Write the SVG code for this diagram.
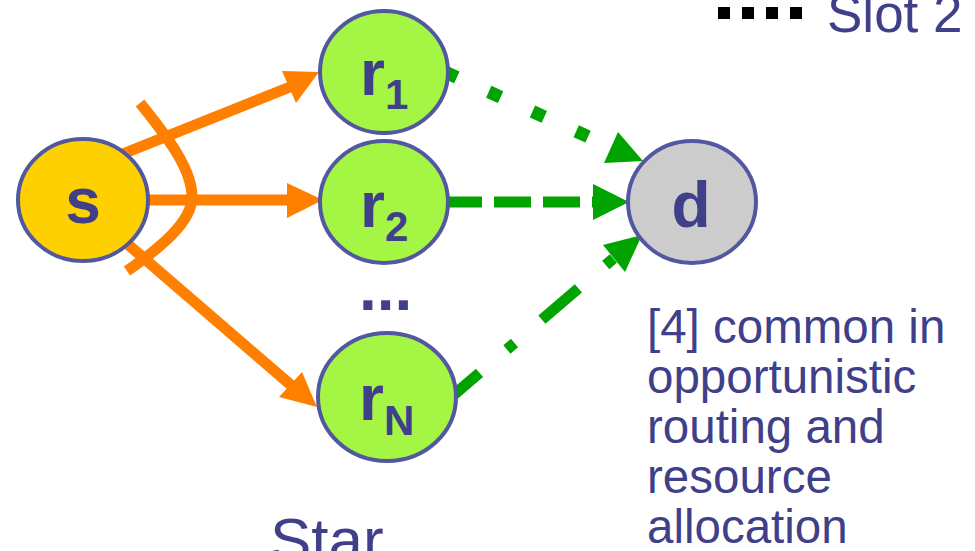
<svg xmlns="http://www.w3.org/2000/svg" width="975" height="551" viewBox="0 0 975 551">
<style>
.node{stroke:#5258A0;stroke-width:4}
.lbl{font-family:"Liberation Sans",Arial,sans-serif;font-weight:bold;fill:#40408A;font-size:64px}
.sub{font-size:42px}
.txt{font-family:"Liberation Sans",Arial,sans-serif;fill:#40408A}
.or{stroke:#FF7F00;stroke-width:11;fill:none}
.orh{fill:#FF7F00}
.gr{stroke:#00A300;fill:none}
.grh{fill:#00A300}
</style>
<rect width="975" height="551" fill="#FFFFFF"/>
<g id="connectors">
  <path class="or" d="M140,103 C170,140 192,170 192,197 C192,222 160,248 127,271"/>
  <line class="or" x1="110" y1="159" x2="290" y2="87"/>
  <polygon class="orh" points="282,71 296,103 319,72"/>
  <line class="or" x1="140" y1="200" x2="290" y2="200"/>
  <polygon class="orh" points="287,183 287,218 323,200"/>
  <line class="or" x1="110" y1="229" x2="292" y2="386"/>
  <polygon class="orh" points="302,372 279,397 317,407"/>
  <line class="gr" stroke-width="13" stroke-dasharray="13 35" x1="445" y1="72" x2="611" y2="147"/>
  <polygon class="grh" points="618,132 604,163 643,161"/>
  <line class="gr" stroke-width="11" stroke-dasharray="37 12" x1="445" y1="202" x2="596" y2="202"/>
  <polygon class="grh" points="593,184 593,220 629,202"/>
  <line class="gr" stroke-width="11" stroke-dasharray="48 36 10 36" x1="443" y1="404" x2="614" y2="258"/>
  <polygon class="grh" points="603,245 625,272 642,235"/>
  <line stroke="#000000" stroke-width="12" stroke-dasharray="12 12" x1="718" y1="13" x2="803" y2="13"/>
</g>
<g id="s">
  <ellipse class="node" cx="83" cy="200" rx="65" ry="61" fill="#FFD000"/>
  <text class="lbl" x="83" y="223" text-anchor="middle">s</text>
</g>
<g id="r1">
  <ellipse class="node" cx="384" cy="72" rx="64" ry="61" fill="#A5F545"/>
  <text class="lbl" x="360" y="95">r<tspan class="sub" dy="14">1</tspan></text>
</g>
<g id="r2">
  <ellipse class="node" cx="384" cy="202" rx="64" ry="61" fill="#A5F545"/>
  <text class="lbl" x="360" y="227">r<tspan class="sub" dy="14">2</tspan></text>
</g>
<g id="dots">
  <text class="lbl" x="359" y="310">...</text>
</g>
<g id="rN">
  <ellipse class="node" cx="387" cy="397" rx="69" ry="64" fill="#A5F545"/>
  <text class="lbl" x="359" y="420">r<tspan class="sub" dy="15">N</tspan></text>
</g>
<g id="d">
  <ellipse class="node" cx="692" cy="202" rx="64" ry="61" fill="#CCCCCC"/>
  <text class="lbl" x="691" y="227" text-anchor="middle">d</text>
</g>
<g id="legend">
  <text class="txt" x="827" y="32" font-size="53">Slot 2</text>
</g>
<g id="note">
  <text class="txt" font-size="47.5">
    <tspan x="647" y="343">[4] common in</tspan>
    <tspan x="647" y="393">opportunistic</tspan>
    <tspan x="647" y="443">routing and</tspan>
    <tspan x="647" y="493">resource</tspan>
    <tspan x="647" y="543">allocation</tspan>
  </text>
</g>
<g id="title">
  <text class="txt" x="270" y="561" font-size="62">Star</text>
</g>
</svg>
